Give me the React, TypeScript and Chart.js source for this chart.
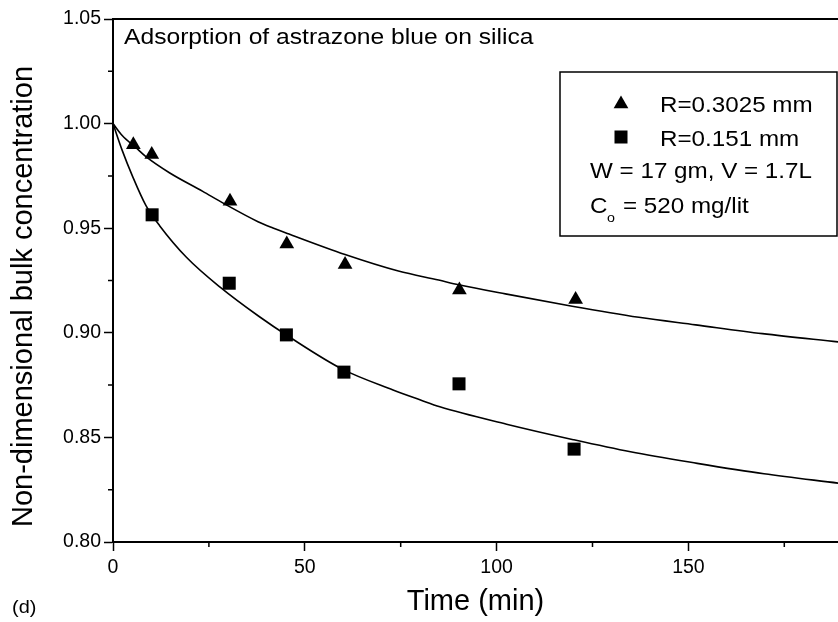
import React, { useEffect, useRef } from 'react';
import { Chart, registerables } from 'chart.js';

Chart.register(...registerables);

// ---- data ----
const xMajorTicks = [0, 50, 100, 150];
const xMinorTicks = [25, 75, 125, 175];
const yMajorTicks = [0.8, 0.85, 0.9, 0.95, 1.0, 1.05];
const yMajorLabels = ['0.80', '0.85', '0.90', '0.95', '1.00', '1.05'];
const yMinorTicks = [0.825, 0.875, 0.925, 0.975, 1.025];

// R = 0.3025 mm (triangles)
const triTime = [5.3, 10.1, 30.5, 45.3, 60.5, 90.3, 120.6];
const triConc = [0.9899, 0.9852, 0.9629, 0.9424, 0.9326, 0.9204, 0.9159];
// R = 0.151 mm (squares)
const sqTime = [10.2, 30.3, 45.2, 60.2, 90.2, 120.2];
const sqConc = [0.9564, 0.9237, 0.899, 0.8812, 0.8756, 0.8444];

// model curves
const fitTriTime = [0, 2.4, 5.9, 8.5, 14.7, 23.4, 28.6, 37.8, 41.7, 45.7, 60.5, 74.4, 84.9, 90.1, 102.3, 119.7, 137.1, 151.9, 169.3, 189.2];
const fitTriConc = [1.0, 0.9943, 0.9886, 0.9843, 0.9765, 0.9676, 0.9621, 0.9531, 0.9501, 0.9473, 0.9374, 0.9295, 0.9252, 0.923, 0.9186, 0.9127, 0.9074, 0.9038, 0.8996, 0.8956];
const fitSqTime = [0, 2.4, 5.1, 8.6, 12.2, 19.2, 28.0, 38.0, 45.9, 59.9, 73.0, 80.0, 85.2, 102.6, 120.0, 134.9, 152.3, 169.7, 189.2];
const fitSqConc = [1.0, 0.9872, 0.9748, 0.9608, 0.9511, 0.936, 0.9217, 0.9079, 0.8981, 0.8825, 0.8727, 0.868, 0.8646, 0.8563, 0.8489, 0.8431, 0.8376, 0.8326, 0.8281];

const X_MIN = 0;
const X_MAX = 189;
const Y_MIN = 0.8;
const Y_MAX = 1.05;

const FONT = '"Liberation Sans", Arial, Helvetica, sans-serif';

const zip = (xs: number[], ys: number[]) => xs.map((x, i) => ({ x, y: ys[i] }));

function drawText(ctx: CanvasRenderingContext2D, text: string, x: number, y: number, size: number, sx = 1.1) {
  ctx.save();
  ctx.translate(x, y);
  ctx.scale(sx, 1);
  ctx.font = `${size}px ${FONT}`;
  ctx.textAlign = 'left';
  ctx.textBaseline = 'alphabetic';
  ctx.fillStyle = '#000';
  ctx.fillText(text, 0, 0);
  ctx.restore();
}

const decorPlugin = {
  id: 'decor',
  afterDraw(chart: any) {
    const { ctx, chartArea } = chart;
    const xs = chart.scales.x;
    const ys = chart.scales.y;
    ctx.save();
    ctx.strokeStyle = '#000';
    ctx.fillStyle = '#000';

    // top frame line
    ctx.lineWidth = 2;
    ctx.beginPath();
    ctx.moveTo(chartArea.left, chartArea.top);
    ctx.lineTo(chartArea.right, chartArea.top);
    ctx.stroke();

    // minor ticks
    ctx.lineWidth = 1.5;
    ctx.beginPath();
    xMinorTicks.forEach((v) => {
      const px = xs.getPixelForValue(v);
      ctx.moveTo(px, chartArea.bottom);
      ctx.lineTo(px, chartArea.bottom + 5);
    });
    yMinorTicks.forEach((v) => {
      const py = ys.getPixelForValue(v);
      ctx.moveTo(chartArea.left, py);
      ctx.lineTo(chartArea.left - 5, py);
    });
    ctx.stroke();

    // y axis title
    ctx.save();
    ctx.translate(24, 296.5);
    ctx.rotate(-Math.PI / 2);
    ctx.font = `29px ${FONT}`;
    ctx.textAlign = 'center';
    ctx.textBaseline = 'middle';
    ctx.fillText('Non-dimensional bulk concentration', 0, 0);
    ctx.restore();

    // annotation
    drawText(ctx, 'Adsorption of astrazone blue on silica', 124, 44, 22, 1.12);

    // legend box
    ctx.lineWidth = 1.5;
    ctx.strokeRect(560, 72, 277, 164);

    // triangle marker
    const tx = 621, ty = 104, tr = 8.5;
    ctx.beginPath();
    ctx.moveTo(tx, ty - tr);
    ctx.lineTo(tx + tr * Math.sin(Math.PI / 3), ty + tr / 2);
    ctx.lineTo(tx - tr * Math.sin(Math.PI / 3), ty + tr / 2);
    ctx.closePath();
    ctx.fill();
    // square marker
    ctx.fillRect(621 - 6.5, 137 - 6.5, 13, 13);

    drawText(ctx, 'R=0.3025 mm', 660, 112, 22);
    drawText(ctx, 'R=0.151 mm', 660, 146, 22);
    drawText(ctx, 'W = 17 gm, V = 1.7L', 590, 178, 22);
    drawText(ctx, 'C', 590, 213, 22);
    drawText(ctx, 'o', 607, 222, 13);
    drawText(ctx, '= 520 mg/lit', 623, 213, 22);

    // panel label
    drawText(ctx, '(d)', 12, 613, 19, 1.05);

    ctx.restore();
  },
};

export default function App() {
  const ref = useRef<HTMLCanvasElement | null>(null);

  useEffect(() => {
    if (!ref.current) return;
    const chart = new Chart(ref.current, {
      type: 'scatter',
      data: {
        datasets: [
          {
            label: 'fit R=0.3025 mm',
            data: zip(fitTriTime, fitTriConc),
            showLine: true,
            borderColor: '#000',
            borderWidth: 1.6,
            pointRadius: 0,
            cubicInterpolationMode: 'monotone',
            fill: false,
          },
          {
            label: 'fit R=0.151 mm',
            data: zip(fitSqTime, fitSqConc),
            showLine: true,
            borderColor: '#000',
            borderWidth: 1.6,
            pointRadius: 0,
            cubicInterpolationMode: 'monotone',
            fill: false,
          },
          {
            label: 'R=0.3025 mm',
            data: zip(triTime, triConc),
            pointStyle: 'triangle',
            pointRadius: 8.5,
            backgroundColor: '#000',
            borderColor: '#000',
            borderWidth: 0,
          },
          {
            label: 'R=0.151 mm',
            data: zip(sqTime, sqConc),
            pointStyle: 'rect',
            pointRadius: 9.2,
            backgroundColor: '#000',
            borderColor: '#000',
            borderWidth: 0,
          },
        ],
      } as any,
      options: {
        animation: false,
        responsive: false,
        maintainAspectRatio: false,
        layout: { autoPadding: false, padding: { top: 19, left: 0, right: 0, bottom: 0 } },
        plugins: {
          legend: { display: false },
          tooltip: { enabled: false },
          title: { display: false },
        },
        scales: {
          x: {
            type: 'linear',
            min: X_MIN,
            max: X_MAX,
            afterBuildTicks: (scale: any) => {
              scale.ticks = xMajorTicks.map((v) => ({ value: v }));
            },
            afterFit: (scale: any) => {
              scale.height = 80;
            },
            ticks: {
              color: '#000',
              font: { family: FONT, size: 19.5 },
              padding: 5,
              maxRotation: 0,
              autoSkip: false,
              callback: (v: any) => String(v),
            },
            grid: {
              drawOnChartArea: false,
              drawTicks: true,
              tickLength: 9,
              tickWidth: 1.5,
              tickColor: '#000',
            },
            border: { display: true, color: '#000', width: 2 },
            title: {
              display: true,
              text: 'Time (min)',
              color: '#000',
              font: { family: FONT, size: 29 },
              padding: { top: 0, bottom: 3 },
            },
          },
          y: {
            type: 'linear',
            min: Y_MIN,
            max: Y_MAX,
            afterBuildTicks: (scale: any) => {
              scale.ticks = yMajorTicks.map((v) => ({ value: v }));
            },
            afterFit: (scale: any) => {
              scale.width = 113;
            },
            ticks: {
              color: '#000',
              font: { family: FONT, size: 19.5 },
              padding: 3,
              autoSkip: false,
              callback: (_v: any, i: number) => yMajorLabels[i],
            },
            grid: {
              drawOnChartArea: false,
              drawTicks: true,
              tickLength: 9,
              tickWidth: 1.5,
              tickColor: '#000',
            },
            border: { display: true, color: '#000', width: 2 },
          },
        },
      } as any,
      plugins: [decorPlugin],
    });
    return () => chart.destroy();
  }, []);

  return (
    <canvas
      ref={ref}
      width={838}
      height={622}
      style={{ position: 'absolute', left: 0, top: 0, width: 838, height: 622, display: 'block', background: '#fff' }}
    />
  );
}
